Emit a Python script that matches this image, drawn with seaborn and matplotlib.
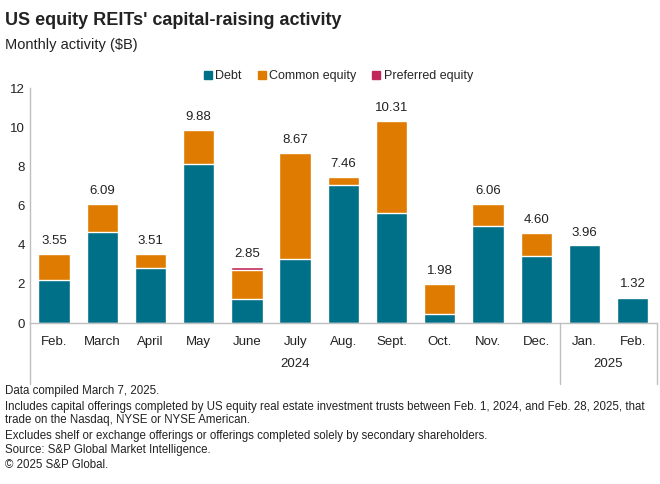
import seaborn as sns
import pandas as pd
import matplotlib.pyplot as plt
from matplotlib.lines import Line2D
import matplotlib.transforms as mtransforms

months = ["Feb.", "March", "April", "May", "June", "July", "Aug.", "Sept.",
          "Oct.", "Nov.", "Dec.", "Jan.", "Feb."]
debt = [2.20, 4.63, 2.79, 8.14, 1.23, 3.27, 7.06, 5.60, 0.46, 4.95, 3.44, 3.96, 1.28]
common = [1.35, 1.46, 0.72, 1.74, 1.48, 5.40, 0.40, 4.71, 1.52, 1.11, 1.16, 0.00, 0.04]
preferred = [0.00, 0.00, 0.00, 0.00, 0.14, 0.00, 0.00, 0.00, 0.00, 0.00, 0.00, 0.00, 0.00]
totals = [3.55, 6.09, 3.51, 9.88, 2.85, 8.67, 7.46, 10.31, 1.98, 6.06, 4.60, 3.96, 1.32]
years = ["2024", "2025"]

c_debt = "#006F88"
c_common = "#DF7B00"
c_pref = "#C1265A"
grey = "#BFBFBF"
txt = "#222222"

sns.set_style("white")
plt.rcParams["font.family"] = ["Liberation Sans", "DejaVu Sans"]

df = pd.DataFrame({"pos": range(len(months)), "debt": debt,
                   "dc": [d + c for d, c in zip(debt, common)],
                   "total": totals})

fig = plt.figure(figsize=(6.6, 4.84), dpi=100)
ax = fig.add_axes([0.0455, 0.3326, 0.9495, 0.4854])

# layered bars give a stacked look
sns.barplot(data=df, x="pos", y="total", color=c_pref, width=0.65,
            saturation=1, ax=ax)
sns.barplot(data=df, x="pos", y="dc", color=c_common, width=0.65,
            saturation=1, ax=ax)
sns.barplot(data=df, x="pos", y="debt", color=c_debt, width=0.65,
            saturation=1, ax=ax)

ax.bar_label(ax.containers[0], labels=[f"{t:.2f}" for t in totals],
             padding=5, fontsize=9.5, color=txt)

ax.set_ylim(0, 12)
ax.set_xlim(-0.5, len(months) - 0.5)
ax.set_yticks(range(0, 13, 2))
ax.set_xticks(range(len(months)))
ax.set_xticklabels(months)
ax.tick_params(axis="both", length=0, labelsize=9.5, colors=txt)
ax.tick_params(axis="x", pad=9)
ax.set_xlabel("")
ax.set_ylabel("")
for s in ["top", "right"]:
    ax.spines[s].set_visible(False)
for s in ["left", "bottom"]:
    ax.spines[s].set_color(grey)
    ax.spines[s].set_linewidth(1)

# year groups below month labels
tr = mtransforms.blended_transform_factory(ax.transData, ax.transAxes)
for xs in [-0.5, 10.5, 12.5]:
    ax.plot([xs, xs], [0, -0.26], transform=tr, color=grey, lw=1, clip_on=False)
ax.text(5.0, -0.175, years[0], transform=tr, ha="center", va="center",
        fontsize=9.5, color=txt)
ax.text(11.5, -0.175, years[1], transform=tr, ha="center", va="center",
        fontsize=9.5, color=txt)

handles = [Line2D([], [], marker="s", ls="", color=c, markersize=6)
           for c in [c_debt, c_common, c_pref]]
fig.legend(handles, ["Debt", "Common equity", "Preferred equity"],
           loc="center", bbox_to_anchor=(0.51, 0.843), ncol=3, frameon=False,
           fontsize=9, handletextpad=0.0, columnspacing=1.0, handlelength=1.2)

fig.text(0.007, 0.958, "US equity REITs' capital-raising activity",
         fontsize=13, fontweight="bold", color=txt, va="center")
fig.text(0.007, 0.907, "Monthly activity ($B)", fontsize=10.5,
         color=txt, va="center")

foot = [
    (0.192, "Data compiled March 7, 2025."),
    (0.146, "Includes capital offerings completed by US equity real estate investment trusts between Feb. 1, 2024, and Feb. 28, 2025, that\ntrade on the Nasdaq, NYSE or NYSE American."),
    (0.099, "Excludes shelf or exchange offerings or offerings completed solely by secondary shareholders."),
    (0.070, "Source: S&P Global Market Intelligence."),
    (0.039, "\u00a9 2025 S&P Global."),
]
for yy, s in foot:
    fig.text(0.007, yy, s, fontsize=8.3, color=txt, va="center", linespacing=1.05)

fig.savefig("out.png", dpi=100)
